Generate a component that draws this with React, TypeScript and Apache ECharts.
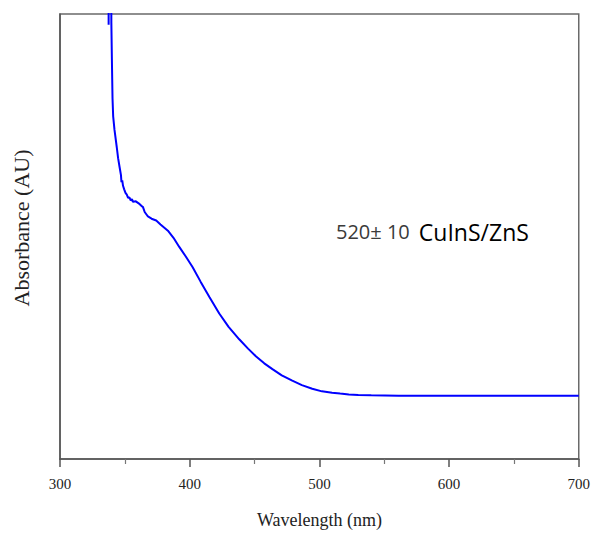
import React, { useEffect, useRef } from "react";
import * as echarts from "echarts";

// Stub segment at the very top (goes above the frame)
const stubWavelength = [337.5, 337.6];
const stubAbsorbance = [0.976, 1.3];

// Main absorbance spectrum (nm, AU)
const wavelength = [
  339.3, 339.6, 340.0, 340.5, 341.0, 342.0, 343.8, 344.8, 346.0, 347.0, 347.4, 348.0,
  348.6, 349.5, 350.5, 351.5, 352.5, 353.5, 354.5, 355.5, 356.3, 358.5, 360.9, 362.7,
  364.0, 365.3, 367.8, 370.6, 374.2, 377.5, 383.2, 387.5, 392.1, 397.0, 402.3, 408.5,
  415.2, 422.8, 430.0, 438.2, 445.0, 451.0, 457.5, 463.8, 471.0, 479.1, 486.5, 494.5,
  502.0, 509.8, 516.0, 522.7, 530.0, 540.0, 561.1, 600.0, 650.0, 700.0,
];
const absorbance = [
  1.3, 0.98, 0.9, 0.81, 0.77, 0.74, 0.7, 0.676, 0.655, 0.638, 0.622, 0.626,
  0.614, 0.606, 0.598, 0.594, 0.587, 0.588, 0.581, 0.584, 0.578, 0.579, 0.574, 0.569,
  0.566, 0.555, 0.545, 0.54, 0.536, 0.527, 0.513, 0.497, 0.476, 0.455, 0.431, 0.398,
  0.364, 0.327, 0.297, 0.269, 0.248, 0.231, 0.215, 0.202, 0.188, 0.176, 0.166, 0.158,
  0.152, 0.149, 0.147, 0.145, 0.144, 0.143, 0.142, 0.142, 0.142, 0.142,
];

const xTicks = [300, 400, 500, 600, 700];
const xTitle = "Wavelength (nm)";
const yTitle = "Absorbance (AU)";
const labelSize = "520± 10";
const labelMaterial = "CuInS/ZnS";

export default function App() {
  const ref = useRef<HTMLDivElement>(null);
  useEffect(() => {
    document.body.style.margin = "0";
    if (!ref.current) return;
    const chart = echarts.init(ref.current, null, { renderer: "svg" });
    const mainData = wavelength.map((w, i) => [w, absorbance[i]]);
    const stubData = stubWavelength.map((w, i) => [w, stubAbsorbance[i]]);
    chart.setOption({
      animation: false,
      backgroundColor: "#ffffff",
      grid: {
        left: 60,
        right: 11,
        top: 14,
        bottom: 69,
        show: true,
        borderColor: "#6a6a6a",
        borderWidth: 1.5,
        backgroundColor: "transparent",
      },
      xAxis: {
        type: "value",
        min: xTicks[0],
        max: xTicks[xTicks.length - 1],
        interval: 100,
        name: xTitle,
        nameLocation: "middle",
        nameGap: 52,
        nameTextStyle: { fontFamily: "Liberation Serif", fontSize: 18, color: "#222" },
        axisLine: { show: true, lineStyle: { color: "#555", width: 1.5 } },
        axisTick: { show: true, inside: false, length: 8, lineStyle: { color: "#555", width: 1.5 } },
        minorTick: { show: true, splitNumber: 2, length: 5, lineStyle: { color: "#777", width: 1.2 } },
        axisLabel: { fontFamily: "Liberation Serif", fontSize: 15, color: "#222", margin: 17 },
        splitLine: { show: false },
      },
      yAxis: {
        type: "value",
        min: 0,
        max: 1,
        axisLine: { show: true, lineStyle: { color: "#555", width: 1.5 } },
        axisTick: { show: false },
        axisLabel: { show: false },
        splitLine: { show: false },
      },
      graphic: [
        {
          type: "text",
          x: 21,
          y: 228,
          rotation: Math.PI / 2,
          style: {
            text: yTitle,
            font: '22px "Liberation Serif"',
            fill: "#222",
            textAlign: "center",
            textVerticalAlign: "middle",
          },
        },
        {
          type: "text",
          left: 336,
          top: 220,
          style: {
            text: `{a|${labelSize}}{b|${labelMaterial}}`,
            rich: {
              a: { fontFamily: "Open Sans", fontSize: 20, fill: "#3a3a3a", color: "#3a3a3a", padding: [0, 9, 0, 0] },
              b: { fontFamily: "Open Sans", fontSize: 23, fill: "#000", color: "#000" },
            },
          },
        },
      ],
      series: [
        {
          type: "line",
          data: mainData,
          showSymbol: false,
          symbol: "none",
          clip: true,
          lineStyle: { color: "#0000ff", width: 2 },
        },
        {
          type: "line",
          data: stubData,
          showSymbol: false,
          symbol: "none",
          clip: true,
          lineStyle: { color: "#0000ff", width: 2 },
        },
      ],
    });
    return () => chart.dispose();
  }, []);
  return <div ref={ref} style={{ width: 593, height: 534 }} />;
}
